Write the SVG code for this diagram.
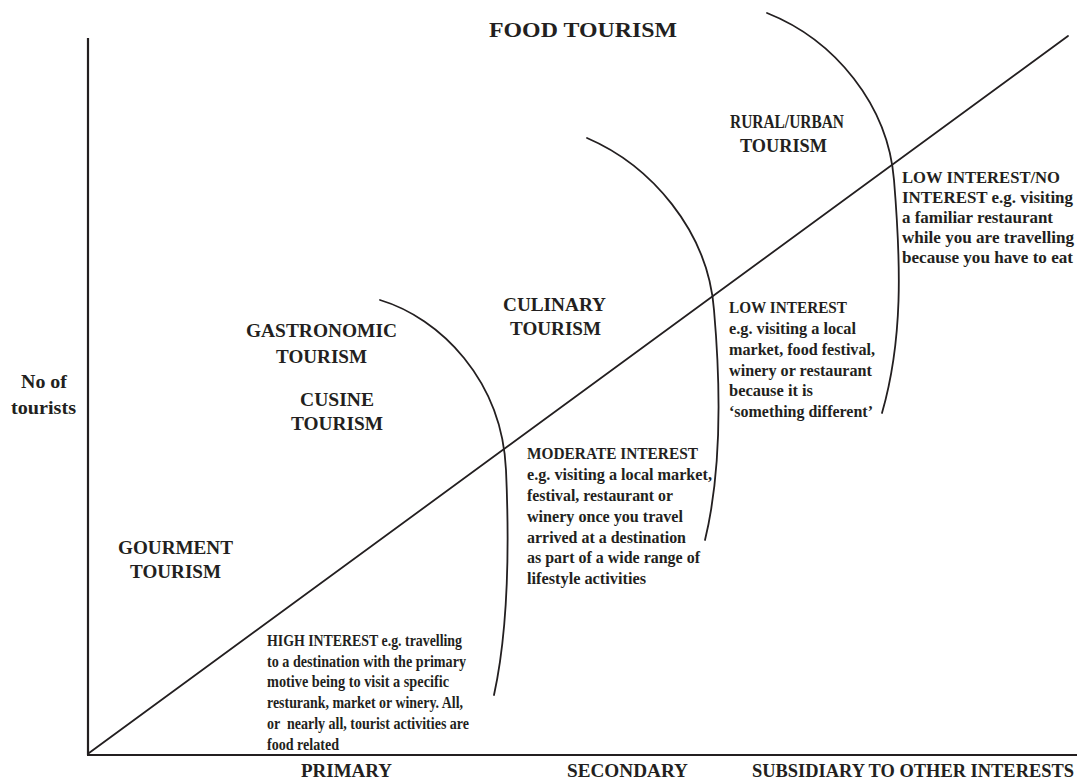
<svg xmlns="http://www.w3.org/2000/svg" width="1077" height="782" viewBox="0 0 1077 782">
<style>
text{font-family:"Liberation Serif","Times New Roman",serif;font-weight:bold;fill:#231f20}
.lab{font-size:19px}
.xl{font-size:18px}
.title{font-size:22px}
.body{font-size:16.5px}
.ln{fill:none;stroke:#231f20;stroke-width:1.8;stroke-linecap:round}
.ax{fill:none;stroke:#231f20;stroke-width:2.2}
</style>
<rect width="1077" height="782" fill="#ffffff"/>
<g id="axes">
<line class="ax" x1="88" y1="38" x2="88" y2="755"/>
<line class="ax" x1="87" y1="755" x2="1077" y2="755"/>
</g>
<g id="connectors">
<line class="ln" x1="89" y1="753" x2="1068" y2="36"/>
<path class="ln" d="M380,300 C440,318 502,380 506,470 C510,560 506,640 494,695"/>
<path class="ln" d="M587,138 C650,165 708,230 714,310 C721,390 722,470 705,540"/>
<path class="ln" d="M767,13 C835,40 888,105 894,180 C901,265 903,340 882,413"/>
</g>
<g id="title"><text class="title" x="489" y="37" textLength="188" lengthAdjust="spacingAndGlyphs">FOOD TOURISM</text></g>
<g id="y-label">
<text class="lab" x="21" y="388" textLength="46" lengthAdjust="spacingAndGlyphs">No of</text>
<text class="lab" x="11" y="414" textLength="65" lengthAdjust="spacingAndGlyphs">tourists</text>
</g>
<g id="rural-urban">
<text class="lab" x="730" y="128" textLength="114" lengthAdjust="spacingAndGlyphs">RURAL/URBAN</text>
<text class="lab" x="740" y="152" textLength="87" lengthAdjust="spacingAndGlyphs">TOURISM</text>
</g>
<g id="culinary">
<text class="lab" x="503" y="311" textLength="103" lengthAdjust="spacingAndGlyphs">CULINARY</text>
<text class="lab" x="510" y="335" textLength="91" lengthAdjust="spacingAndGlyphs">TOURISM</text>
</g>
<g id="gastronomic">
<text class="lab" x="246" y="337" textLength="151" lengthAdjust="spacingAndGlyphs">GASTRONOMIC</text>
<text class="lab" x="276" y="363" textLength="91" lengthAdjust="spacingAndGlyphs">TOURISM</text>
</g>
<g id="cusine">
<text class="lab" x="300" y="406" textLength="74" lengthAdjust="spacingAndGlyphs">CUSINE</text>
<text class="lab" x="291" y="430" textLength="92" lengthAdjust="spacingAndGlyphs">TOURISM</text>
</g>
<g id="gourment">
<text class="lab" x="118" y="554" textLength="115" lengthAdjust="spacingAndGlyphs">GOURMENT</text>
<text class="lab" x="130" y="578" textLength="91" lengthAdjust="spacingAndGlyphs">TOURISM</text>
</g>
<g id="high-interest">
<text class="body" x="267" y="646" textLength="195" lengthAdjust="spacingAndGlyphs">HIGH INTEREST e.g. travelling</text>
<text class="body" x="267" y="667" textLength="199" lengthAdjust="spacingAndGlyphs">to a destination with the primary</text>
<text class="body" x="267" y="687" textLength="182" lengthAdjust="spacingAndGlyphs">motive being to visit a specific</text>
<text class="body" x="267" y="708" textLength="196" lengthAdjust="spacingAndGlyphs">resturank, market or winery. All,</text>
<text class="body" x="267" y="729" textLength="202" lengthAdjust="spacingAndGlyphs" xml:space="preserve">or  nearly all, tourist activities are</text>
<text class="body" x="267" y="750" textLength="72" lengthAdjust="spacingAndGlyphs">food related</text>
</g>
<g id="moderate-interest">
<text class="body" x="527" y="459" textLength="171" lengthAdjust="spacingAndGlyphs">MODERATE INTEREST</text>
<text class="body" x="527" y="480" textLength="185" lengthAdjust="spacingAndGlyphs">e.g. visiting a local market,</text>
<text class="body" x="527" y="501" textLength="146" lengthAdjust="spacingAndGlyphs">festival, restaurant or</text>
<text class="body" x="527" y="522" textLength="156" lengthAdjust="spacingAndGlyphs">winery once you travel</text>
<text class="body" x="527" y="543" textLength="159" lengthAdjust="spacingAndGlyphs">arrived at a destination</text>
<text class="body" x="527" y="563" textLength="173" lengthAdjust="spacingAndGlyphs">as part of a wide range of</text>
<text class="body" x="527" y="584" textLength="119" lengthAdjust="spacingAndGlyphs">lifestyle activities</text>
</g>
<g id="low-interest">
<text class="body" x="729" y="313" textLength="118" lengthAdjust="spacingAndGlyphs">LOW INTEREST</text>
<text class="body" x="729" y="334" textLength="127" lengthAdjust="spacingAndGlyphs">e.g. visiting a local</text>
<text class="body" x="729" y="355" textLength="146" lengthAdjust="spacingAndGlyphs">market, food festival,</text>
<text class="body" x="729" y="376" textLength="143" lengthAdjust="spacingAndGlyphs">winery or restaurant</text>
<text class="body" x="729" y="396" textLength="84" lengthAdjust="spacingAndGlyphs">because it is</text>
<text class="body" x="729" y="417" textLength="144" lengthAdjust="spacingAndGlyphs">‘something different’</text>
</g>
<g id="low-no-interest">
<text class="body" x="902" y="183" textLength="158" lengthAdjust="spacingAndGlyphs">LOW INTEREST/NO</text>
<text class="body" x="902" y="203" textLength="171" lengthAdjust="spacingAndGlyphs">INTEREST e.g. visiting</text>
<text class="body" x="902" y="223" textLength="151" lengthAdjust="spacingAndGlyphs">a familiar restaurant</text>
<text class="body" x="902" y="243" textLength="172" lengthAdjust="spacingAndGlyphs">while you are travelling</text>
<text class="body" x="902" y="263" textLength="171" lengthAdjust="spacingAndGlyphs">because you have to eat</text>
</g>
<g id="x-labels">
<text class="xl" x="301" y="777" textLength="91" lengthAdjust="spacingAndGlyphs">PRIMARY</text>
<text class="xl" x="567" y="777" textLength="121" lengthAdjust="spacingAndGlyphs">SECONDARY</text>
<text class="xl" x="752" y="777" textLength="322" lengthAdjust="spacingAndGlyphs">SUBSIDIARY TO OTHER INTERESTS</text>
</g>
</svg>
